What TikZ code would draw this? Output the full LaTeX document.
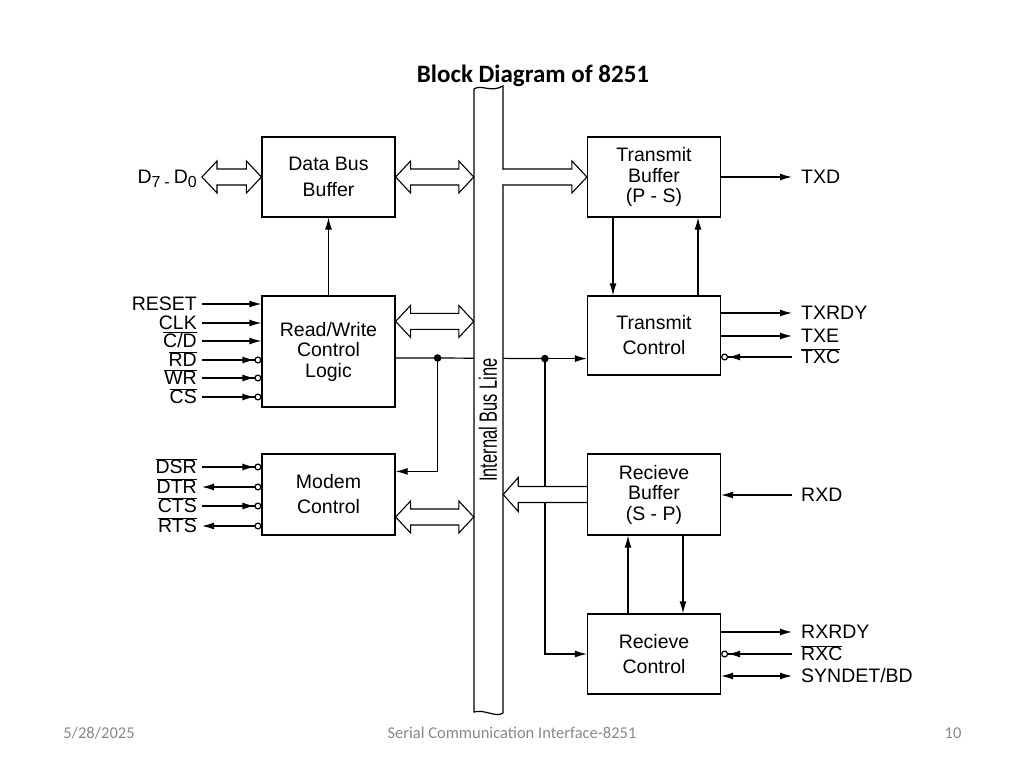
\documentclass[tikz,border=0pt]{standalone}
\usepackage{fontspec}
\setmainfont{Liberation Sans}
\newfontfamily\slidefont{Carlito}
\usetikzlibrary{arrows.meta,calc}

\definecolor{footgray}{RGB}{137,137,137}

\newcommand{\ovr}[1]{$\overline{\mbox{#1}}$}
\newcommand{\sub}[1]{\raisebox{-3.5pt}{\fontsize{16}{16}\selectfont #1}}
% hollow two-way bus arrow from #1 (left tip) to #2 (right tip)
\newcommand{\dbus}[2]{%
  \draw[line width=1.1pt,fill=white] (#1) -- ($(#1)+(15,-16)$) -- ($(#1)+(15,-8)$)
    -- ($(#2)+(-15,-8)$) -- ($(#2)+(-15,-16)$) -- (#2) -- ($(#2)+(-15,16)$)
    -- ($(#2)+(-15,8)$) -- ($(#1)+(15,8)$) -- ($(#1)+(15,16)$) -- cycle;}

\tikzset{
  sig/.style={line width=1.2pt},
  tohead/.style={sig,-{Latex[length=12pt,width=7pt]}},
  tobub/.style={sig,-{Latex[length=12pt,width=7pt] Circle[open,length=7pt]}},
  frombub/.style={sig,{Circle[open,length=7pt]}-{Latex[length=12pt,width=7pt]}},
  twohead/.style={sig,{Latex[length=12pt,width=7pt]}-{Latex[length=12pt,width=7pt]}},
  blk/.style={draw,line width=1.2pt,minimum width=133,minimum height=80,
    align=center,inner sep=0,font=\fontsize{19.5}{20.5}\selectfont},
  lbl/.style={inner xsep=5pt,inner ysep=0pt,text height=13.8pt,text depth=0pt,
    font=\fontsize{19.5}{21}\selectfont},
  lblr/.style={lbl,inner xsep=9pt},
  ttl/.style={font=\slidefont\bfseries\fontsize{25}{30}\selectfont},
  foot/.style={text=footgray,font=\slidefont\fontsize{16.5}{19}\selectfont}
}

\begin{document}
\begin{tikzpicture}[x=1pt,y=-1pt]
  \fill[white] (0,0) rectangle (1024,768);
  \useasboundingbox (0,0) rectangle (1024,768);

  % title and footer
  \node[ttl,anchor=base] (title) at (533,82) {Block Diagram of 8251};
  \node[foot,anchor=base] (date) at (99,738) {5/28/2025};
  \node[foot,anchor=base] (subj) at (512,738) {Serial Communication Interface-8251};
  \node[foot,anchor=base] (page) at (953,738) {10};

  % blocks
  \node[blk] (dbb) at (328.5,177) {Data Bus\\[5pt]Buffer};
  \node[blk,minimum height=111] (rwl) at (328.5,351.5) {Read/Write\\Control\\Logic};
  \node[blk,minimum height=81] (mdm) at (328.5,494.5) {Modem\\[4.5pt]Control};
  \node[blk] (txb) at (654,177) {Transmit\\Buffer\\(P - S)};
  \node[blk,minimum height=79] (txc) at (654,335.5) {Transmit\\[4.5pt]Control};
  \node[blk,minimum height=81] (rxb) at (654,494.5) {Recieve\\Buffer\\(S - P)};
  \node[blk] (rxc) at (654,654) {Recieve\\[4.5pt]Control};
  \node[inner sep=0,minimum width=29,minimum height=625] (bus) at (488.5,400.5) {};

  % control line through the bus
  \coordinate (j1) at ($(rwl.east)+(42,6.5)$);
  \coordinate (j2) at ($(txc.south west)+(-42,-17)$);
  \draw[sig] ($(rwl.east)+(0,6.5)$) -- (j1) -- (j2);
  \draw[tohead] (j2) -- (j2 -| txc.west);
  \draw[tohead] (j1) |- ($(mdm.north east)+(0,18)$);
  \draw[tohead] (j2) |- (rxc.west);
  \fill (j1) circle[radius=3.8pt];
  \fill (j2) circle[radius=3.8pt];

  % internal bus
  \draw[line width=1.2pt,fill=white] (474,89) .. controls (481,84) and (491,93) .. (503,86)
    -- (503,713) .. controls (496,718) and (485,709) .. (474,712) -- cycle;
  \node[rotate=90,inner sep=0,font=\fontsize{25}{28}\selectfont] (buslbl) at (488,420)
    {\scalebox{0.66}[1]{Internal Bus Line}};

  % bus arrows
  \node[lbl,anchor=east] (dlbl) at (202,177)
    {D\sub{7}\hspace{4pt}\sub{-}\hspace{4pt}D\sub{0}};
  \dbus{dlbl.east}{dbb.west}
  \coordinate (b1) at (bus.west |- dbb.east);
  \dbus{dbb.east}{b1}
  \coordinate (a2) at ($(rwl.north east)+(0,26)$);
  \coordinate (b2) at (bus.west |- a2);
  \dbus{a2}{b2}
  \coordinate (a3) at ($(mdm.east)+(0,22.5)$);
  \coordinate (b3) at (bus.west |- a3);
  \dbus{a3}{b3}

  \coordinate (t1) at (bus.east |- txb.west);
  \fill[white] ($(t1)+(-1.5,-7.4)$) rectangle ($(t1)+(1.5,7.4)$);
  \draw[line width=1.1pt,fill=white] ($(t1)+(0,-8)$) -- ($(txb.west)+(-15,-8)$)
    -- ($(txb.west)+(-15,-16)$) -- (txb.west) -- ($(txb.west)+(-15,16)$)
    -- ($(txb.west)+(-15,8)$) -- ($(t1)+(0,8)$);
  \coordinate (r1) at (bus.east |- rxb.west);
  \draw[line width=1.1pt,fill=white] ($(rxb.west)+(0,-8)$) -- ($(r1)+(15,-8)$)
    -- ($(r1)+(15,-17)$) -- (r1) -- ($(r1)+(15,17)$)
    -- ($(r1)+(15,8)$) -- ($(rxb.west)+(0,8)$);

  % internal links
  \draw[tohead] (rwl.north) -- (dbb.south);
  \draw[tohead] ($(txb.south)+(-41,0)$) -- ($(txc.north)+(-41,0)$);
  \draw[tohead] ($(txc.north)+(44,0)$) -- ($(txb.south)+(44,0)$);
  \draw[tohead] ($(rxc.north)+(-26,0)$) -- ($(rxb.south)+(-26,0)$);
  \draw[tohead] ($(rxb.south)+(29,0)$) -- ($(rxc.north)+(29,0)$);

  % cpu side signals
  \node[lbl,anchor=east] (reset) at (202,304) {RESET};
  \node[lbl,anchor=east] (clk) at (202,323) {CLK};
  \node[lbl,anchor=east] (cd) at (202,341) {\ovr{C/D}};
  \node[lbl,anchor=east] (rd) at (202,360) {\ovr{RD}};
  \node[lbl,anchor=east] (wr) at (202,378) {\ovr{WR}};
  \node[lbl,anchor=east] (cs) at (202,397) {\ovr{CS}};
  \draw[tohead] (reset.east) -- (reset.east -| rwl.west);
  \draw[tohead] (clk.east) -- (clk.east -| rwl.west);
  \draw[tohead] (cd.east) -- (cd.east -| rwl.west);
  \draw[tobub] (rd.east) -- (rd.east -| rwl.west);
  \draw[tobub] (wr.east) -- (wr.east -| rwl.west);
  \draw[tobub] (cs.east) -- (cs.east -| rwl.west);

  % modem signals
  \node[lbl,anchor=east] (dsr) at (202,467) {\ovr{DSR}};
  \node[lbl,anchor=east] (dtr) at (202,487) {\ovr{DTR}};
  \node[lbl,anchor=east] (cts) at (202,506) {\ovr{CTS}};
  \node[lbl,anchor=east] (rts) at (202,526) {\ovr{RTS}};
  \draw[tobub] (dsr.east) -- (dsr.east -| mdm.west);
  \draw[frombub] (dtr.east -| mdm.west) -- (dtr.east);
  \draw[tobub] (cts.east) -- (cts.east -| mdm.west);
  \draw[frombub] (rts.east -| mdm.west) -- (rts.east);

  % serial side signals
  \node[lblr,anchor=west] (txd) at (792,177) {TXD};
  \node[lblr,anchor=west] (txrdy) at (792,313) {TXRDY};
  \node[lblr,anchor=west] (txe) at (792,336) {TXE};
  \node[lblr,anchor=west] (txclk) at (792,357) {\ovr{TXC}};
  \node[lblr,anchor=west] (rxd) at (792,495) {RXD};
  \node[lblr,anchor=west] (rxrdy) at (792,632) {RXRDY};
  \node[lblr,anchor=west] (rxclk) at (792,654) {\ovr{RXC}};
  \node[lblr,anchor=west] (syn) at (792,676) {SYNDET/BD};
  \draw[tohead] (txb.east) -- (txd.west);
  \draw[tohead] (txrdy.west -| txc.east) -- (txrdy.west);
  \draw[tohead] (txe.west -| txc.east) -- (txe.west);
  \draw[tobub] (txclk.west) -- (txclk.west -| txc.east);
  \draw[tohead] (rxd.west) -- (rxd.west -| rxb.east);
  \draw[tohead] (rxrdy.west -| rxc.east) -- (rxrdy.west);
  \draw[tobub] (rxclk.west) -- (rxclk.west -| rxc.east);
  \draw[twohead] (syn.west -| rxc.east) -- (syn.west);
\end{tikzpicture}
\end{document}
